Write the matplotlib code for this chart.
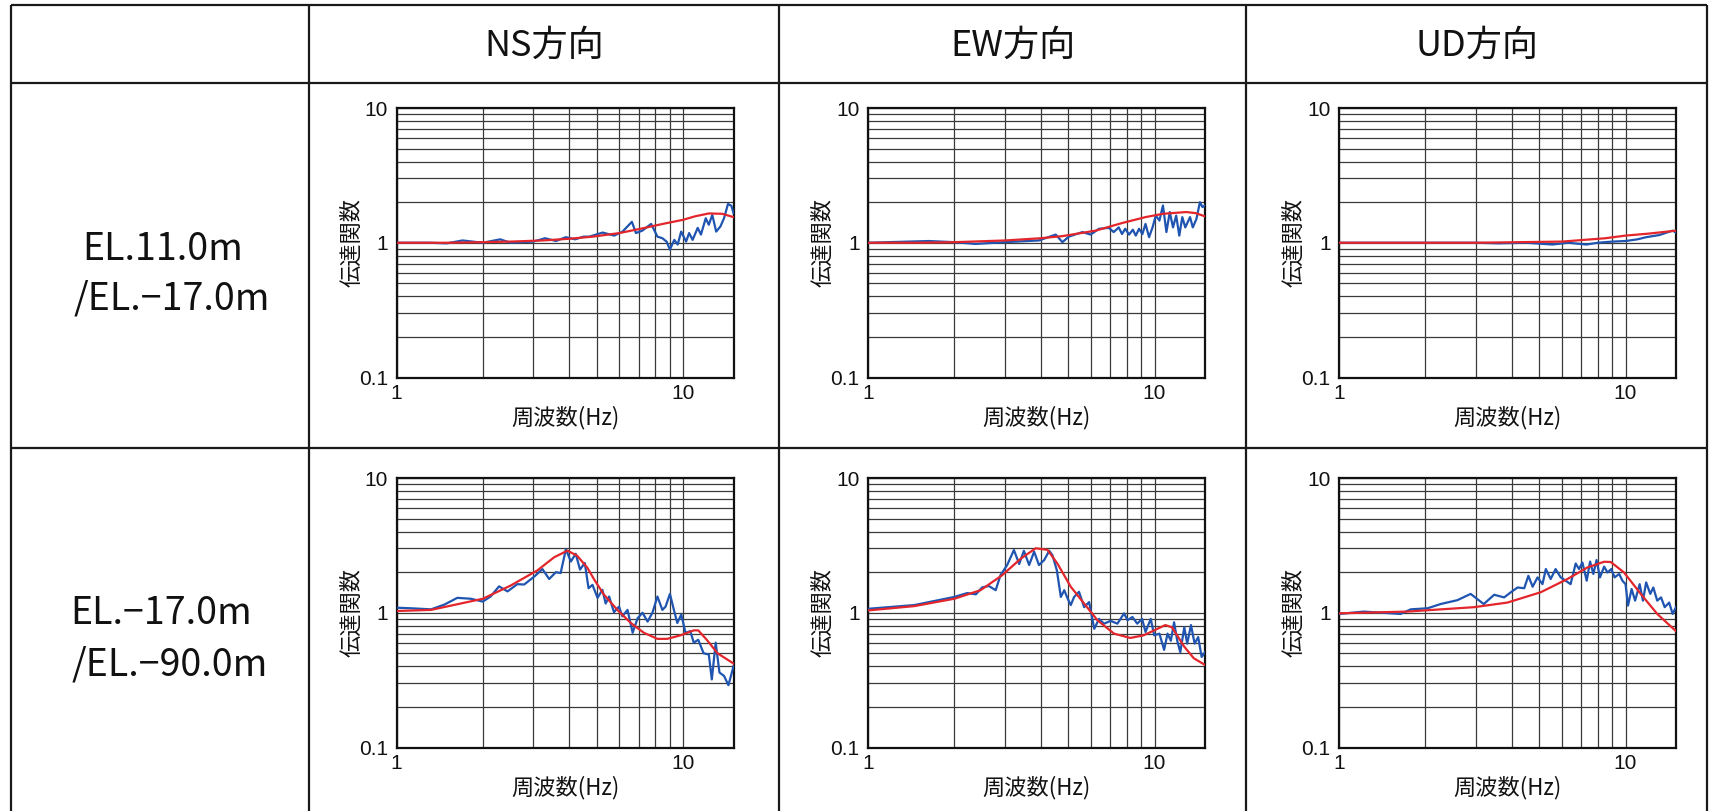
import matplotlib
matplotlib.use("Agg")
import matplotlib.pyplot as plt
from matplotlib.ticker import FixedLocator, NullFormatter, FixedFormatter

plt.rcParams['font.family'] = ['Noto Sans CJK JP', 'DejaVu Sans']

# ---------------- data ----------------
col_titles = ["NS方向", "EW方向", "UD方向"]
row_labels = [["EL.11.0m", "/EL.−17.0m"], ["EL.−17.0m", "/EL.−90.0m"]]
x_label = "周波数(Hz)"
y_label = "伝達関数"
x_ticks = [1, 10]
x_ticklabels = ["1", "10"]
y_ticks = [0.1, 1, 10]
y_ticklabels = ["0.1", "1", "10"]

# Row 1 (EL.11.0m / EL.-17.0m)
ns1_obs_f = [1.0, 1.3, 1.5, 1.7, 2.0, 2.3, 2.5, 3.0, 3.3, 3.6, 3.9, 4.2, 4.5, 4.71, 5.24, 5.75, 6.15, 6.63,
             6.85, 7.21, 7.74, 8.14, 8.47, 8.76, 9.0, 9.32, 9.58, 9.85, 10.25, 10.5, 10.8, 11.25, 11.55,
             12.0, 12.3, 12.65, 13.05, 13.5, 13.9, 14.35, 14.75, 15.0]
ns1_obs_v = [1.0, 1.0, 0.99, 1.04, 1.0, 1.06, 1.0, 1.02, 1.08, 1.03, 1.1, 1.06, 1.11, 1.11, 1.19, 1.13, 1.21,
             1.43, 1.18, 1.23, 1.38, 1.11, 1.08, 1.02, 0.89, 1.05, 0.97, 1.21, 1.02, 1.18, 1.05, 1.29, 1.15,
             1.52, 1.36, 1.61, 1.21, 1.32, 1.52, 1.94, 1.88, 1.66]
ns1_fit_f = [1.0, 1.5, 2.0, 2.5, 3.24, 4.0, 4.84, 6.0, 7.23, 8.5, 10.0, 11.0, 12.3, 13.7, 15.0]
ns1_fit_v = [1.0, 1.0, 1.01, 1.02, 1.04, 1.07, 1.11, 1.18, 1.28, 1.38, 1.48, 1.57, 1.65, 1.64, 1.55]

ew1_obs_f = [1.0, 1.63, 2.0, 2.37, 3.0, 3.95, 4.52, 4.77, 5.02, 5.6, 5.98, 6.4, 6.93, 7.2, 7.5, 7.7, 7.9, 8.15,
             8.4, 8.6, 8.83, 9.07, 9.3, 9.57, 9.84, 10.1, 10.4, 10.7, 11.0, 11.3, 11.6, 11.9, 12.2, 12.5,
             12.8, 13.3, 13.6, 14.0, 14.4, 14.7, 15.0]
ew1_obs_v = [1.0, 1.03, 1.01, 0.98, 1.01, 1.04, 1.15, 1.01, 1.11, 1.2, 1.15, 1.27, 1.29, 1.2, 1.3, 1.16, 1.27,
             1.15, 1.25, 1.13, 1.27, 1.16, 1.38, 1.1, 1.3, 1.59, 1.46, 1.89, 1.2, 1.69, 1.3, 1.59, 1.13,
             1.55, 1.3, 1.55, 1.3, 1.5, 2.0, 1.84, 1.89]
ew1_fit_f = [1.0, 1.5, 2.0, 3.02, 4.0, 4.77, 6.23, 7.7, 9.3, 10.7, 12.9, 13.9, 15.0]
ew1_fit_v = [1.0, 1.0, 1.01, 1.04, 1.08, 1.12, 1.23, 1.4, 1.55, 1.64, 1.69, 1.66, 1.57]

ud1_obs_f = [1.0, 2.0, 3.0, 3.6, 4.5, 5.56, 6.3, 7.3, 8.0, 9.0, 10.0, 11.0, 11.8, 13.1, 14.6, 15.0]
ud1_obs_v = [1.0, 1.0, 1.0, 0.99, 1.0, 0.97, 1.0, 0.97, 1.0, 1.02, 1.03, 1.06, 1.1, 1.14, 1.23, 1.19]
ud1_fit_f = [1.0, 3.0, 6.0, 8.5, 10.0, 12.1, 15.0]
ud1_fit_v = [1.0, 1.0, 1.02, 1.08, 1.13, 1.17, 1.23]

# Row 2 (EL.-17.0m / EL.-90.0m)
ns2_obs_f = [1.0, 1.12, 1.32, 1.47, 1.63, 1.82, 2.0, 2.13, 2.28, 2.44, 2.64, 2.79, 3.03, 3.23, 3.41, 3.6,
             3.74, 3.9, 4.06, 4.22, 4.37, 4.54, 4.68, 4.83, 5.03, 5.23, 5.37, 5.52, 5.74, 5.98, 6.14, 6.4,
             6.67, 6.94, 7.22, 7.52, 7.82, 8.14, 8.47, 8.69, 9.0, 9.29, 9.55, 9.86, 10.2, 10.6, 10.9, 11.3,
             11.8, 12.3, 12.6, 13.0, 13.4, 13.9, 14.4, 15.0]
ns2_obs_v = [1.09, 1.08, 1.06, 1.15, 1.29, 1.27, 1.21, 1.32, 1.57, 1.44, 1.63, 1.62, 1.86, 2.11, 1.78, 2.0,
             1.97, 2.96, 2.4, 2.74, 2.09, 2.34, 1.52, 1.61, 1.29, 1.48, 1.17, 1.32, 1.01, 1.11, 0.94, 1.05,
             0.71, 0.91, 1.0, 0.86, 1.0, 1.32, 1.05, 1.11, 1.38, 1.05, 0.84, 0.97, 0.71, 0.73, 0.6, 0.63,
             0.5, 0.49, 0.32, 0.6, 0.36, 0.34, 0.29, 0.4]
ns2_fit_f = [1.0, 1.32, 2.0, 2.5, 3.1, 3.55, 3.95, 4.27, 4.64, 4.9, 5.3, 5.9, 6.57, 7.3, 8.14, 8.8, 9.8,
             10.9, 11.3, 12.1, 13.2, 15.0]
ns2_fit_v = [1.03, 1.05, 1.27, 1.59, 2.06, 2.58, 2.89, 2.65, 2.15, 1.76, 1.36, 1.05, 0.84, 0.71, 0.64, 0.64,
             0.68, 0.74, 0.74, 0.63, 0.5, 0.42]

ew2_obs_f = [1.0, 1.45, 2.0, 2.22, 2.38, 2.5, 2.64, 2.79, 2.9, 3.06, 3.23, 3.37, 3.5, 3.65, 3.8, 3.95, 4.12,
             4.29, 4.4, 4.56, 4.71, 4.84, 4.97, 5.1, 5.24, 5.45, 5.68, 5.91, 6.16, 6.4, 6.66, 7.03, 7.42,
             7.83, 8.05, 8.37, 8.7, 9.05, 9.3, 9.7, 9.97, 10.4, 10.8, 11.1, 11.4, 11.7, 12.0, 12.3, 12.7,
             13.0, 13.4, 13.8, 14.2, 14.6, 15.0]
ew2_obs_v = [1.07, 1.14, 1.31, 1.4, 1.37, 1.54, 1.58, 1.47, 1.9, 2.26, 2.92, 2.3, 2.88, 2.26, 2.84, 2.26,
             2.46, 2.88, 2.68, 2.07, 1.31, 1.47, 1.28, 1.14, 1.31, 1.43, 1.1, 1.2, 0.76, 0.9, 0.83, 0.87,
             0.83, 0.99, 0.88, 0.93, 0.83, 0.9, 0.72, 0.9, 0.68, 0.7, 0.53, 0.7, 0.62, 0.85, 0.62, 0.51,
             0.78, 0.59, 0.81, 0.59, 0.66, 0.47, 0.51]
ew2_fit_f = [1.0, 1.45, 2.0, 2.47, 2.94, 3.42, 3.85, 4.23, 4.58, 5.1, 5.68, 6.32, 7.22, 8.23, 9.16, 9.97,
             10.9, 11.5, 12.7, 13.7, 15.0]
ew2_fit_v = [1.04, 1.12, 1.27, 1.47, 1.9, 2.53, 3.01, 2.93, 2.32, 1.56, 1.17, 0.88, 0.7, 0.65, 0.68, 0.74,
             0.81, 0.78, 0.56, 0.46, 0.41]

ud2_obs_f = [1.0, 1.22, 1.64, 1.78, 2.04, 2.26, 2.59, 2.88, 3.2, 3.48, 3.77, 3.98, 4.2, 4.43, 4.58, 4.74,
             4.93, 5.13, 5.27, 5.48, 5.7, 5.94, 6.18, 6.43, 6.7, 6.88, 7.07, 7.32, 7.52, 7.72, 7.92, 8.14,
             8.42, 8.65, 8.92, 9.16, 9.5, 9.75, 10.0, 10.2, 10.5, 10.8, 11.2, 11.5, 11.8, 12.2, 12.5, 12.9,
             13.3, 13.7, 14.2, 14.6, 15.0]
ud2_obs_v = [0.98, 1.02, 0.98, 1.06, 1.08, 1.16, 1.24, 1.38, 1.16, 1.36, 1.3, 1.42, 1.54, 1.52, 1.88, 1.56,
             1.83, 1.63, 2.11, 1.78, 2.11, 1.83, 1.73, 1.63, 2.32, 2.11, 2.36, 1.73, 2.4, 1.94, 2.46, 1.83,
             2.2, 1.99, 2.11, 1.83, 1.94, 1.73, 1.63, 1.13, 1.5, 1.23, 1.63, 1.23, 1.68, 1.38, 1.54, 1.23,
             1.3, 1.1, 1.19, 0.98, 1.1]
ud2_fit_f = [1.0, 1.73, 2.96, 3.87, 5.06, 6.27, 7.37, 8.42, 8.88, 9.88, 11.3, 12.9, 15.0]
ud2_fit_v = [0.99, 1.02, 1.1, 1.19, 1.42, 1.78, 2.17, 2.39, 2.38, 1.99, 1.38, 0.98, 0.73]

panels = [
    [(ns1_obs_f, ns1_obs_v, ns1_fit_f, ns1_fit_v),
     (ew1_obs_f, ew1_obs_v, ew1_fit_f, ew1_fit_v),
     (ud1_obs_f, ud1_obs_v, ud1_fit_f, ud1_fit_v)],
    [(ns2_obs_f, ns2_obs_v, ns2_fit_f, ns2_fit_v),
     (ew2_obs_f, ew2_obs_v, ew2_fit_f, ew2_fit_v),
     (ud2_obs_f, ud2_obs_v, ud2_fit_f, ud2_fit_v)],
]

# ---------------- layout (pixels) ----------------
W, H = 1710, 811
fig = plt.figure(figsize=(W / 100, H / 100), dpi=100)
fig.patch.set_facecolor("white")

bg = fig.add_axes([0, 0, 1, 1], zorder=0)
bg.set_xlim(0, W)
bg.set_ylim(H, 0)
bg.axis("off")

tbl_x = [11, 309, 779, 1246, 1707]
tbl_y = [5, 83, 448, 811]
for x in tbl_x:
    bg.plot([x, x], [tbl_y[0], tbl_y[-1]], color="#1a1a1a", lw=1.6, solid_capstyle="butt")
for y in tbl_y[:3]:
    bg.plot([tbl_x[0], tbl_x[-1]], [y, y], color="#1a1a1a", lw=1.6, solid_capstyle="butt")

for j, t in enumerate(col_titles):
    cx = (tbl_x[j + 1] + tbl_x[j + 2]) / 2
    bg.text(cx, 46, t, ha="center", va="center", fontsize=26, color="#111")

label_pos = [[(82, 260), (74, 309)], [(70, 624), (72, 675)]]
for i, lines in enumerate(row_labels):
    for (lx, ly), s in zip(label_pos[i], lines):
        bg.text(lx, ly, s, ha="left", va="baseline", fontsize=27, color="#111")

ax_left = [396.5, 868, 1339]
ax_w = 337
ax_top = [108, 478]
ax_h = 269.5

blue = "#1f55b0"
red = "#e3262c"

for i in range(2):
    for j in range(3):
        l, t = ax_left[j], ax_top[i]
        ax = fig.add_axes([l / W, 1 - (t + ax_h) / H, ax_w / W, ax_h / H], zorder=2)
        of, ov, ff, fv = panels[i][j]
        ax.plot(of, ov, color=blue, lw=1.6, zorder=3)
        ax.plot(ff, fv, color=red, lw=1.6, zorder=4)
        ax.set_xscale("log")
        ax.set_yscale("log")
        ax.set_xlim(1, 15)
        ax.set_ylim(0.1, 10)
        ax.xaxis.set_major_locator(FixedLocator(x_ticks))
        ax.xaxis.set_major_formatter(FixedFormatter(x_ticklabels))
        ax.xaxis.set_minor_locator(FixedLocator([2, 3, 4, 5, 6, 7, 8, 9]))
        ax.xaxis.set_minor_formatter(NullFormatter())
        ax.yaxis.set_major_locator(FixedLocator(y_ticks))
        ax.yaxis.set_major_formatter(FixedFormatter(y_ticklabels))
        ax.yaxis.set_minor_locator(FixedLocator([0.2, 0.3, 0.4, 0.5, 0.6, 0.7, 0.8, 0.9,
                                                 2, 3, 4, 5, 6, 7, 8, 9]))
        ax.yaxis.set_minor_formatter(NullFormatter())
        ax.tick_params(which="both", length=0)
        ax.tick_params(axis="x", pad=5, labelsize=15)
        ax.tick_params(axis="y", pad=6, labelsize=15)
        for lab in ax.get_xticklabels() + ax.get_yticklabels():
            lab.set_fontfamily(["Liberation Sans", "DejaVu Sans"])
            lab.set_color("#111")
        ax.grid(True, which="both", color="#3a3a3a", lw=0.9)
        ax.set_axisbelow(True)
        for sp in ax.spines.values():
            sp.set_linewidth(1.6)
            sp.set_color("#111")
        # axis labels
        bg.text(l + ax_w / 2, t + ax_h + 40, x_label, ha="center", va="center",
                fontsize=16, color="#111")
        bg.text(l - 45, t + ax_h / 2, y_label, ha="center", va="center",
                rotation=90, fontsize=16, color="#111")

fig.savefig("out.png", dpi=100)
